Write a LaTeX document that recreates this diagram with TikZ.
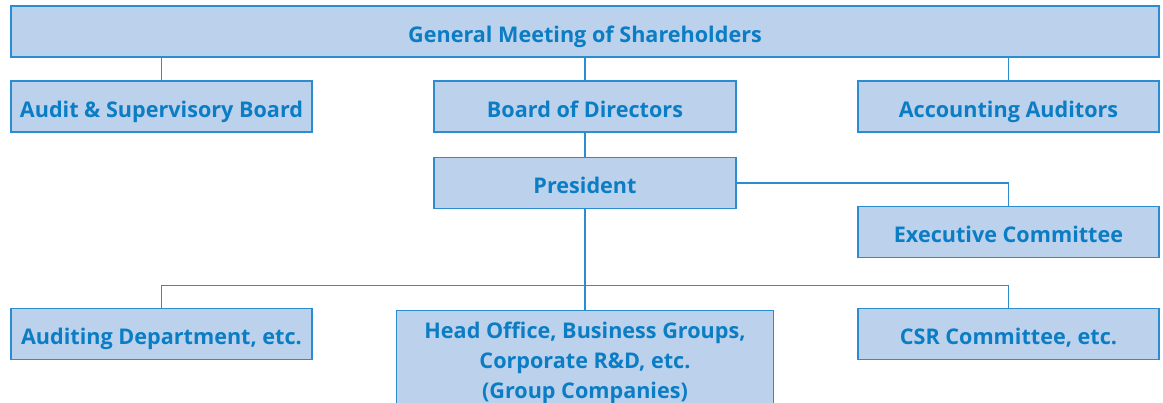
\documentclass[tikz,border=0pt]{standalone}
\usepackage{fontspec}
\setmainfont{Open Sans}
\begin{document}
\definecolor{boxfill}{HTML}{BBD1EC}
\definecolor{boxline}{HTML}{2C8CD0}
\definecolor{txtblue}{HTML}{0B7DC4}
\begin{tikzpicture}[x=0.75pt,y=-0.75pt,
  orgbox/.style={draw=boxline,fill=boxfill,line width=1.1pt,inner sep=0pt,
    minimum height=38.25pt,text=txtblue,font=\bfseries\fontsize{16.2}{19}\selectfont},
  oneline/.style={orgbox,text height=16pt,text depth=0pt},
  link/.style={draw=boxline,line width=1.1pt}]
\clip (0,0) rectangle (1163,403);
\fill[white] (0,0) rectangle (1163,403);
% top level
\node[oneline,minimum width=861pt] (gm) at (585,31.5) {General Meeting of Shareholders};
\node[oneline,minimum width=225.75pt] (asb) at (161.5,106.5) {Audit \& Supervisory Board};
\node[oneline,minimum width=226.5pt] (bod) at (585,106.5) {Board of Directors};
\node[oneline,minimum width=225.75pt] (aa) at (1008.5,106.5) {Accounting Auditors};
% executive line
\node[oneline,minimum width=226.5pt] (pres) at (585,182.8) {President};
\node[oneline,minimum width=225.75pt] (exec) at (1008.5,232) {Executive Committee};
% operating level
\node[oneline,minimum width=225.75pt] (aud) at (161.5,333.8) {Auditing Department, etc.};
\node[orgbox,minimum width=282.4pt,minimum height=78pt,align=center,
  font=\bfseries\fontsize{16.2}{22.5}\selectfont] (ho) at (585,362.5)
  {Head Office, Business Groups,\\Corporate R\&D, etc.\\(Group Companies)};
\node[oneline,minimum width=225.75pt] (csr) at (1008.5,333.8) {CSR Committee, etc.};
% connectors
\coordinate (bus) at (585,285.5);
\draw[link] (gm.south -| asb.north) -- (asb.north);
\draw[link] (gm.south) -- (bod.north);
\draw[link] (gm.south -| aa.north) -- (aa.north);
\draw[link] (bod.south) -- (pres.north);
\draw[link] (pres.east) -| (exec.north);
\draw[link] (pres.south) -- (ho.north);
\draw[link] (aud.north) |- (bus) -| (csr.north);
\end{tikzpicture}
\end{document}
